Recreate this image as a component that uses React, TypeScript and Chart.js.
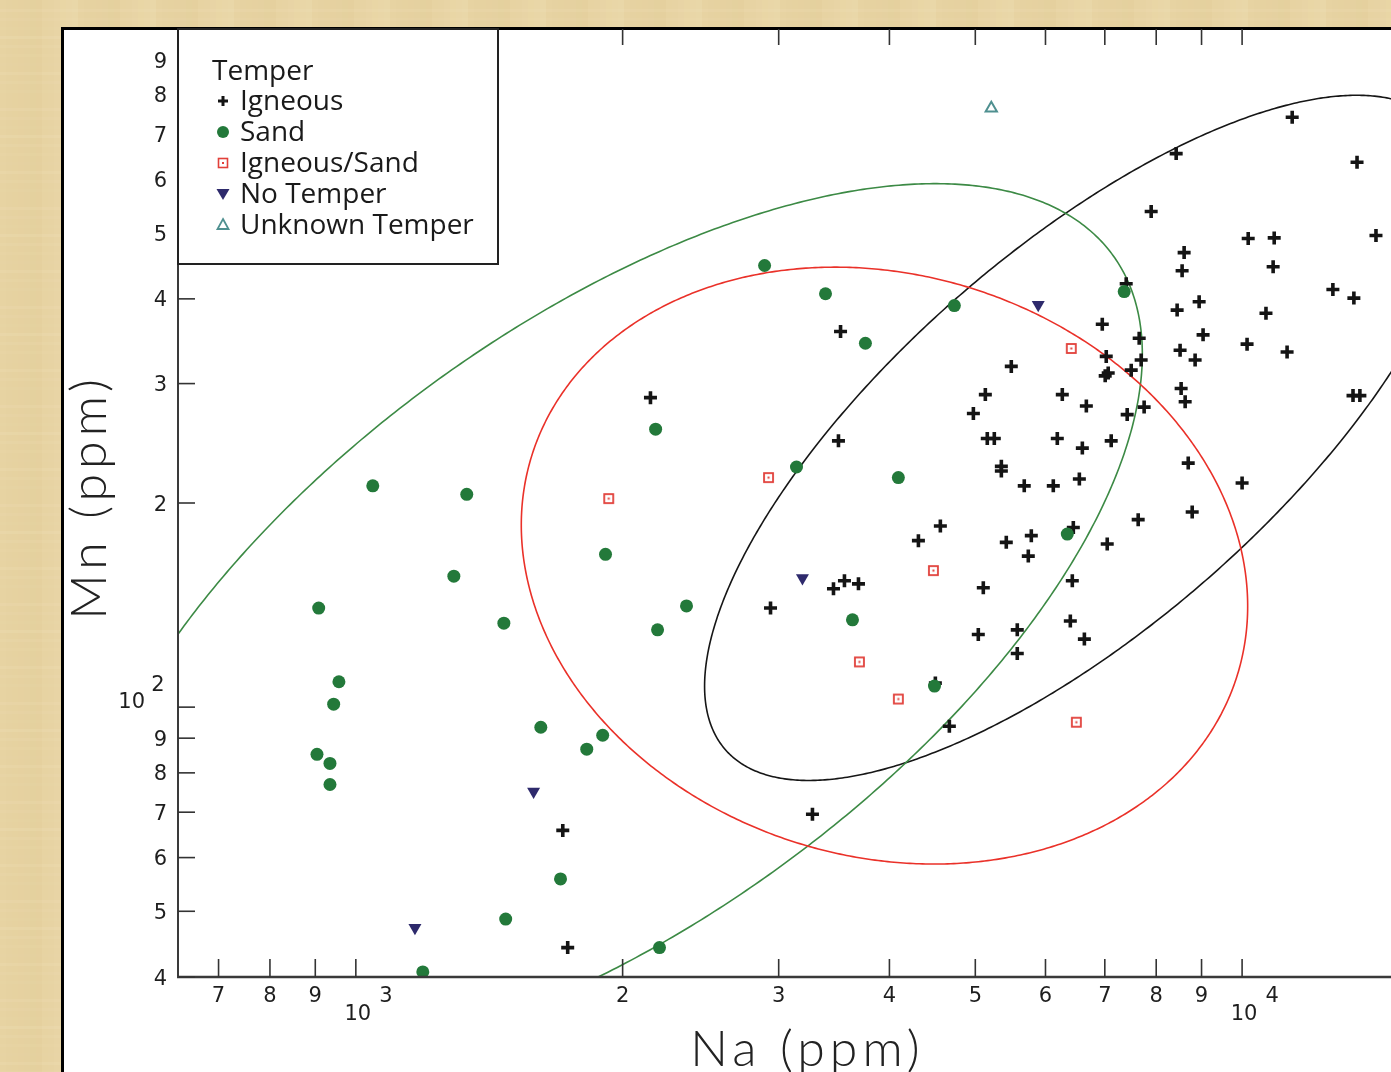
import React, { useEffect, useRef } from 'react';
import { Chart, registerables } from 'chart.js';

Chart.register(...registerables);

const CANVAS_W = 1500;
const CANVAS_H = 1100;

// ---- data (Na ppm, Mn ppm) ----
const igneousNa = [2150, 3523, 3504, 2937, 3459, 3559, 3691, 1712, 1734, 3275, 11390, 8426, 13480, 7896, 10160, 10870, 14160, 8602, 8557, 10840, 12660, 13370, 7400, 8447, 8944, 10640, 6954, 7654, 9036, 8512, 8851, 10130, 11240, 5490, 7026, 7693, 7497, 7062, 7007, 8535, 8625, 13340, 13580, 5132, 4975, 6268, 6672, 7753, 7419, 5158, 5253, 6187, 7117, 6603, 5350, 5350, 5678, 6123, 6552, 8694, 10000, 8784, 7634, 4566, 4313, 5419, 5783, 5738, 6450, 7044, 5105, 6433, 5039, 5576, 5576, 6400, 6638, 4507, 4674];
const igneousMn = [286, 358, 247, 140, 149.5, 153.6, 152, 65.8, 44.2, 69.5, 741, 655, 636, 538, 491, 492, 496, 468, 440, 446, 413, 401, 421, 385, 396, 381, 367, 350, 354, 336, 325, 343, 334, 318, 329, 325, 314, 311, 308, 295, 282, 288, 288, 289, 271, 289, 278, 277, 270, 249, 249, 249, 247, 241, 226.5, 223, 212, 212, 217, 229, 214, 194, 189, 185, 176, 175, 179, 167, 184, 174, 150, 153.6, 128, 130, 120, 134, 126, 108.5, 93.7];

const sandNa = [1045, 1334, 1290, 908, 957, 944, 904, 935, 935, 1469, 1617, 1822, 1899, 1702, 1476, 1190, 2201, 1913, 2179, 2190, 2361, 2892, 3388, 3758, 3142, 4094, 3634, 4497, 4735, 7362, 6350];
const sandMn = [212, 206, 156, 140, 109, 101, 85.2, 82.6, 76.9, 133, 93.4, 86.7, 90.9, 55.8, 48.7, 40.7, 44.2, 168, 257, 130, 141, 448, 407, 344, 226, 218, 134.5, 107.4, 391, 410, 180];

const igneousSandNa = [1929, 2922, 4484, 3700, 4094, 6416, 6501];
const igneousSandMn = [203, 218, 159, 116.6, 102.8, 338, 95.0];

const noTemperNa = [1166, 1587, 3191, 5888];
const noTemperMn = [47.3, 75.1, 155, 392];

const unknownNa = [5212];
const unknownMn = [764];

// confidence ellipses (log10 space): centre, half-extent in decades, correlation
const ellipseGroups = ['Igneous', 'Sand', 'Igneous/Sand'];
const ellipseCenterNa = [6610, 1925, 3949];
const ellipseCenterMn = [249.5, 132.6, 161.7];
const ellipseSpreadNa = [0.4267, 0.603, 0.4098];
const ellipseSpreadMn = [0.5052, 0.6494, 0.4401];
const ellipseCorr = [0.7247, 0.6124, -0.136];

// axes
const xTickValues = [700, 800, 900, 1000, 2000, 3000, 4000, 5000, 6000, 7000, 8000, 9000, 10000];
const xTickLabels = ['7', '8', '9', '10^3', '2', '3', '4', '5', '6', '7', '8', '9', '10^4'];
const yTickValues = [40, 50, 60, 70, 80, 90, 100, 200, 300, 400, 500, 600, 700, 800, 900];
const yTickLabels = ['4', '5', '6', '7', '8', '9', '10^2', '2', '3', '4', '5', '6', '7', '8', '9'];

const legendTitle = 'Temper';
const legendLabels = ['Igneous', 'Sand', 'Igneous/Sand', 'No Temper', 'Unknown Temper'];

// styles
const C_IGN = '#141414';
const C_SAND = '#23793a';
const C_RED = '#e2403a';
const C_NAVY = '#2e2a6c';
const C_TEAL = '#4f9090';
const ellipseColors = ['#161616', '#3c8a45', '#ea3129'];

const TICK_FONT = '21px "DejaVu Sans", "Liberation Sans", sans-serif';
const LEGEND_FONT = '28px "Open Sans", sans-serif';
const TITLE_FONT = '300 50px Lato, "Open Sans", sans-serif';

function makeSquareDot(): HTMLCanvasElement {
  const c = document.createElement('canvas');
  c.width = 13;
  c.height = 13;
  const g = c.getContext('2d')!;
  g.fillStyle = '#ffffff';
  g.fillRect(1, 1, 11, 11);
  g.strokeStyle = C_RED;
  g.lineWidth = 1.8;
  g.strokeRect(2, 2, 9, 9);
  g.fillStyle = C_RED;
  g.fillRect(5.5, 5.5, 2, 2);
  return c;
}

const backgroundPlugin = {
  id: 'parchment',
  beforeDraw(chart: any) {
    const { ctx, width, height } = chart;
    ctx.save();
    ctx.fillStyle = '#e7d3a2';
    ctx.fillRect(0, 0, width, height);
    for (let i = 0; i < width; i += 6) {
      const a = ((i * 37) % 13) / 13;
      ctx.fillStyle = a > 0.5 ? `rgba(250,240,205,${(a - 0.5) * 0.35})` : `rgba(205,178,120,${a * 0.18})`;
      ctx.fillRect(i, 0, 6, height);
    }
    for (let j = 0; j < height; j += 9) {
      const a = ((j * 29) % 11) / 11;
      ctx.fillStyle = `rgba(255,245,215,${a * 0.12})`;
      ctx.fillRect(0, j, width, 3);
    }
    // white panel + frame
    ctx.fillStyle = '#ffffff';
    ctx.fillRect(62, 28, width, height);
    ctx.fillStyle = '#000000';
    ctx.fillRect(61, 27, 3, height);
    ctx.fillRect(61, 27, width, 3);
    ctx.restore();
  },
};

const ellipsePlugin = {
  id: 'ellipses',
  beforeDatasetsDraw(chart: any) {
    const { ctx, chartArea, scales } = chart;
    const xs = scales.x;
    const ys = scales.y;
    ctx.save();
    ctx.beginPath();
    ctx.rect(chartArea.left, chartArea.top, chartArea.right - chartArea.left, chartArea.bottom - chartArea.top);
    ctx.clip();
    for (let i = 0; i < ellipseGroups.length; i++) {
      const lx0 = Math.log10(ellipseCenterNa[i]);
      const ly0 = Math.log10(ellipseCenterMn[i]);
      const sx = ellipseSpreadNa[i];
      const sy = ellipseSpreadMn[i];
      const r = ellipseCorr[i];
      const q = Math.sqrt(1 - r * r);
      ctx.beginPath();
      for (let k = 0; k <= 720; k++) {
        const t = (k * Math.PI) / 360;
        const lx = lx0 + sx * Math.cos(t);
        const ly = ly0 + sy * (r * Math.cos(t) + q * Math.sin(t));
        const px = xs.getPixelForValue(Math.pow(10, lx));
        const py = ys.getPixelForValue(Math.pow(10, ly));
        if (k === 0) ctx.moveTo(px, py);
        else ctx.lineTo(px, py);
      }
      ctx.closePath();
      ctx.strokeStyle = ellipseColors[i];
      ctx.lineWidth = 1.6;
      ctx.stroke();
    }
    ctx.restore();
  },
};

function drawPower(ctx: CanvasRenderingContext2D, label: string, bx: number, by: number, ex: number, ey: number, align: CanvasTextAlign) {
  const [base, exp] = label.split('^');
  ctx.textAlign = align;
  ctx.fillText(base, bx, by);
  ctx.textAlign = 'center';
  ctx.fillText(exp, ex, ey);
}

const axesPlugin = {
  id: 'axesDeco',
  afterDatasetsDraw(chart: any) {
    const { ctx, chartArea, scales } = chart;
    const { left, top, right, bottom } = chartArea;
    const xs = scales.x;
    const ys = scales.y;
    ctx.save();
    ctx.strokeStyle = '#3a3a3a';
    ctx.lineWidth = 2;
    ctx.beginPath();
    ctx.moveTo(left, top);
    ctx.lineTo(left, bottom);
    ctx.stroke();
    ctx.lineWidth = 2.6;
    ctx.beginPath();
    ctx.moveTo(left - 1, bottom);
    ctx.lineTo(right, bottom);
    ctx.stroke();

    ctx.lineWidth = 1.6;
    ctx.strokeStyle = '#333333';
    yTickValues.forEach((v) => {
      const py = ys.getPixelForValue(v);
      ctx.beginPath();
      ctx.moveTo(left, py);
      ctx.lineTo(left + 17, py);
      ctx.stroke();
    });
    xTickValues.forEach((v) => {
      const px = xs.getPixelForValue(v);
      ctx.beginPath();
      ctx.moveTo(px, bottom);
      ctx.lineTo(px, bottom - 18);
      ctx.stroke();
      ctx.beginPath();
      ctx.moveTo(px, top);
      ctx.lineTo(px, top + 16);
      ctx.stroke();
    });

    ctx.fillStyle = '#1e1e1e';
    ctx.font = TICK_FONT;
    ctx.textBaseline = 'alphabetic';
    yTickValues.forEach((v, i) => {
      const py = ys.getPixelForValue(v);
      const lab = yTickLabels[i];
      if (lab.includes('^')) {
        drawPower(ctx, lab, left - 33, py + 1, left - 20, py - 16, 'right');
      } else {
        ctx.textAlign = 'right';
        ctx.fillText(lab, left - 11, py + 7.5);
      }
    });
    xTickValues.forEach((v, i) => {
      const px = xs.getPixelForValue(v);
      const lab = xTickLabels[i];
      if (lab.includes('^')) {
        drawPower(ctx, lab, px + 2, bottom + 43, px + 30, bottom + 25, 'center');
      } else {
        ctx.textAlign = 'center';
        ctx.fillText(lab, px, bottom + 25);
      }
    });

    // axis titles
    ctx.font = TITLE_FONT;
    (ctx as any).letterSpacing = '5px';
    ctx.fillStyle = '#222222';
    ctx.textAlign = 'center';
    ctx.fillText('Na (ppm)', (left + right) / 2 + 7, bottom + 89);
    ctx.save();
    ctx.translate(106, (top + bottom) / 2 - 6);
    ctx.rotate(-Math.PI / 2);
    ctx.fillText('Mn (ppm)', 0, 0);
    ctx.restore();
    ctx.restore();
  },
};

const legendPlugin = {
  id: 'legendBox',
  afterDraw(chart: any) {
    const { ctx, chartArea } = chart;
    const x0 = chartArea.left;
    const y0 = chartArea.top;
    ctx.save();
    ctx.fillStyle = '#ffffff';
    ctx.fillRect(x0, y0, 320, 235);
    ctx.strokeStyle = '#222222';
    ctx.lineWidth = 2;
    ctx.strokeRect(x0, y0, 320, 235);

    ctx.fillStyle = '#1a1a1a';
    ctx.font = LEGEND_FONT;
    ctx.textAlign = 'left';
    ctx.textBaseline = 'alphabetic';
    ctx.fillText(legendTitle, x0 + 34, y0 + 51);
    const mx = x0 + 45;
    legendLabels.forEach((lab, i) => {
      const base = y0 + 81 + i * 31;
      const cy = base - 9;
      ctx.fillStyle = '#1a1a1a';
      ctx.fillText(lab, x0 + 62, base);
      if (i === 0) {
        ctx.strokeStyle = C_IGN;
        ctx.lineWidth = 3;
        ctx.beginPath();
        ctx.moveTo(mx - 5, cy);
        ctx.lineTo(mx + 5, cy);
        ctx.moveTo(mx, cy - 5);
        ctx.lineTo(mx, cy + 5);
        ctx.stroke();
      } else if (i === 1) {
        ctx.fillStyle = C_SAND;
        ctx.beginPath();
        ctx.arc(mx, cy, 6, 0, Math.PI * 2);
        ctx.fill();
      } else if (i === 2) {
        ctx.strokeStyle = C_RED;
        ctx.lineWidth = 1.6;
        ctx.strokeRect(mx - 4.5, cy - 4.5, 9, 9);
        ctx.fillStyle = C_RED;
        ctx.fillRect(mx - 1, cy - 1, 2, 2);
      } else if (i === 3) {
        ctx.fillStyle = C_NAVY;
        ctx.beginPath();
        ctx.moveTo(mx - 6.5, cy - 5);
        ctx.lineTo(mx + 6.5, cy - 5);
        ctx.lineTo(mx, cy + 6);
        ctx.closePath();
        ctx.fill();
      } else {
        ctx.strokeStyle = C_TEAL;
        ctx.lineWidth = 1.8;
        ctx.beginPath();
        ctx.moveTo(mx, cy - 6);
        ctx.lineTo(mx + 5.5, cy + 4);
        ctx.lineTo(mx - 5.5, cy + 4);
        ctx.closePath();
        ctx.stroke();
      }
    });
    ctx.restore();
  },
};

const pairs = (xs: number[], ys: number[]) => xs.map((x, i) => ({ x, y: ys[i] }));

export default function App() {
  const ref = useRef<HTMLCanvasElement>(null);

  useEffect(() => {
    const canvas = ref.current;
    if (!canvas) return;
    const squareDot = makeSquareDot();
    const chart = new Chart(canvas, {
      type: 'scatter',
      data: {
        datasets: [
          {
            label: legendLabels[0],
            data: pairs(igneousNa, igneousMn),
            pointStyle: 'cross',
            pointRadius: 6.5,
            pointBorderWidth: 3.6,
            pointBorderColor: C_IGN,
            pointBackgroundColor: C_IGN,
            order: 5,
          },
          {
            label: legendLabels[1],
            data: pairs(sandNa, sandMn),
            pointStyle: 'circle',
            pointRadius: 6.5,
            pointBorderWidth: 0,
            pointBorderColor: C_SAND,
            pointBackgroundColor: C_SAND,
            order: 1,
          },
          {
            label: legendLabels[2],
            data: pairs(igneousSandNa, igneousSandMn),
            pointStyle: squareDot as any,
            pointRadius: 6.5,
            order: 2,
          },
          {
            label: legendLabels[3],
            data: pairs(noTemperNa, noTemperMn),
            pointStyle: 'triangle',
            pointRotation: 180,
            pointRadius: 7.5,
            pointBorderWidth: 0,
            pointBorderColor: C_NAVY,
            pointBackgroundColor: C_NAVY,
            order: 3,
          },
          {
            label: legendLabels[4],
            data: pairs(unknownNa, unknownMn),
            pointStyle: 'triangle',
            pointRadius: 6.5,
            pointBorderWidth: 2,
            pointBorderColor: C_TEAL,
            pointBackgroundColor: '#ffffff',
            order: 4,
          },
        ],
      },
      options: {
        responsive: false,
        animation: false,
        devicePixelRatio: 1,
        layout: { padding: { left: 178, top: 29, right: CANVAS_W - 1423, bottom: CANVAS_H - 977 } },
        scales: {
          x: { type: 'logarithmic', min: 630, max: 16000, display: false },
          y: { type: 'logarithmic', min: 40, max: 1000, display: false },
        },
        plugins: {
          legend: { display: false },
          tooltip: { enabled: false },
        },
        events: [],
      },
      plugins: [backgroundPlugin, ellipsePlugin, axesPlugin, legendPlugin],
    });
    return () => chart.destroy();
  }, []);

  return (
    <div
      style={{
        position: 'fixed',
        left: 0,
        top: 0,
        width: 1391,
        height: 1072,
        overflow: 'hidden',
        background: '#e7d3a2',
      }}
    >
      <canvas ref={ref} width={CANVAS_W} height={CANVAS_H} style={{ display: 'block', width: CANVAS_W, height: CANVAS_H }} />
    </div>
  );
}
